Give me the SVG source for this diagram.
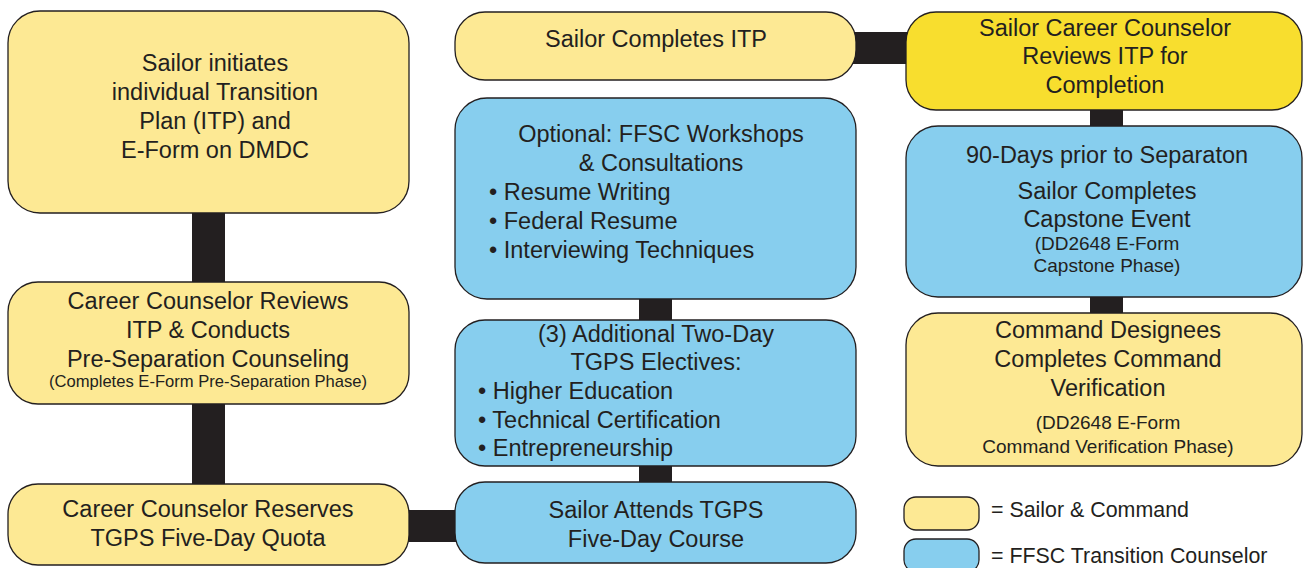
<svg xmlns="http://www.w3.org/2000/svg" width="1304" height="568" viewBox="0 0 1304 568">
<style>
.box{stroke:#231f20;stroke-width:1.3}
.y{fill:#fde994}
.yb{fill:#f8de2e}
.b{fill:#87ceee}
text{font-family:"Liberation Sans",Arial,sans-serif;fill:#231f20}
.t{font-size:23.5px;text-anchor:middle}
.l{font-size:23.5px}
.s{font-size:16.6px;text-anchor:middle}
.s2{font-size:19px;text-anchor:middle}
.lg{font-size:21.4px}
.c{fill:#231f20}
</style>
<rect width="1304" height="568" fill="#ffffff"/>
<g id="connectors">
<rect class="c" x="192" y="210" width="33" height="75"/>
<rect class="c" x="192" y="400" width="33" height="88"/>
<rect class="c" x="405" y="510" width="54" height="32"/>
<rect class="c" x="639" y="295" width="33" height="29"/>
<rect class="c" x="639" y="462" width="33" height="24"/>
<rect class="c" x="852" y="32" width="58" height="32"/>
<rect class="c" x="1090" y="106" width="33" height="24"/>
<rect class="c" x="1090" y="293" width="33" height="24"/>
</g>
<g id="n-initiate">
<rect class="box y" x="8" y="11" width="401" height="202" rx="32"/>
<text class="t" x="215" y="71">Sailor initiates</text>
<text class="t" x="215" y="100">individual Transition</text>
<text class="t" x="215" y="129">Plan (ITP) and</text>
<text class="t" x="215" y="158">E-Form on DMDC</text>
</g>
<g id="n-review">
<rect class="box y" x="8" y="282" width="401" height="122" rx="30"/>
<text class="t" x="208" y="309">Career Counselor Reviews</text>
<text class="t" x="208" y="338">ITP &amp; Conducts</text>
<text class="t" x="208" y="367">Pre-Separation Counseling</text>
<text class="s" x="208" y="387">(Completes E-Form Pre-Separation Phase)</text>
</g>
<g id="n-reserve">
<rect class="box y" x="8" y="484" width="401" height="81" rx="30"/>
<text class="t" x="208" y="517">Career Counselor Reserves</text>
<text class="t" x="208" y="546">TGPS Five-Day Quota</text>
</g>
<g id="n-completes">
<rect class="box y" x="455" y="12" width="401" height="68" rx="30"/>
<text class="t" x="656" y="47">Sailor Completes ITP</text>
</g>
<g id="n-optional">
<rect class="box b" x="455" y="98" width="401" height="201" rx="32"/>
<text class="t" x="661" y="142">Optional: FFSC Workshops</text>
<text class="t" x="661" y="171">&amp; Consultations</text>
<text class="l" x="489" y="200">• Resume Writing</text>
<text class="l" x="489" y="229">• Federal Resume</text>
<text class="l" x="489" y="258">• Interviewing Techniques</text>
</g>
<g id="n-electives">
<rect class="box b" x="455" y="320" width="401" height="146" rx="30"/>
<text class="t" x="656" y="342">(3) Additional Two-Day</text>
<text class="t" x="656" y="370">TGPS Electives:</text>
<text class="l" x="478" y="399">• Higher Education</text>
<text class="l" x="478" y="428">• Technical Certification</text>
<text class="l" x="478" y="456">• Entrepreneurship</text>
</g>
<g id="n-attends">
<rect class="box b" x="455" y="482" width="401" height="81" rx="30"/>
<text class="t" x="656" y="518">Sailor Attends TGPS</text>
<text class="t" x="656" y="547">Five-Day Course</text>
</g>
<g id="n-cc-review">
<rect class="box yb" x="906" y="12" width="396" height="98" rx="30"/>
<text class="t" x="1105" y="36">Sailor Career Counselor</text>
<text class="t" x="1105" y="64">Reviews ITP for</text>
<text class="t" x="1105" y="93">Completion</text>
</g>
<g id="n-capstone">
<rect class="box b" x="906" y="126" width="396" height="171" rx="32"/>
<text class="t" x="1107" y="163">90-Days prior to Separaton</text>
<text class="t" x="1107" y="199">Sailor Completes</text>
<text class="t" x="1107" y="227">Capstone Event</text>
<text class="s2" x="1107" y="250">(DD2648 E-Form</text>
<text class="s2" x="1107" y="272">Capstone Phase)</text>
</g>
<g id="n-verify">
<rect class="box y" x="906" y="313" width="396" height="153" rx="32"/>
<text class="t" x="1108" y="338">Command Designees</text>
<text class="t" x="1108" y="367">Completes Command</text>
<text class="t" x="1108" y="396">Verification</text>
<text class="s2" x="1108" y="429">(DD2648 E-Form</text>
<text class="s2" x="1108" y="453">Command Verification Phase)</text>
</g>
<g id="legend">
<rect class="box y" x="904" y="497" width="75" height="33" rx="12"/>
<text class="lg" x="991" y="517">= Sailor &amp; Command</text>
<rect class="box b" x="904" y="539" width="75" height="33" rx="12"/>
<text class="lg" x="991" y="563">= FFSC Transition Counselor</text>
</g>
</svg>
